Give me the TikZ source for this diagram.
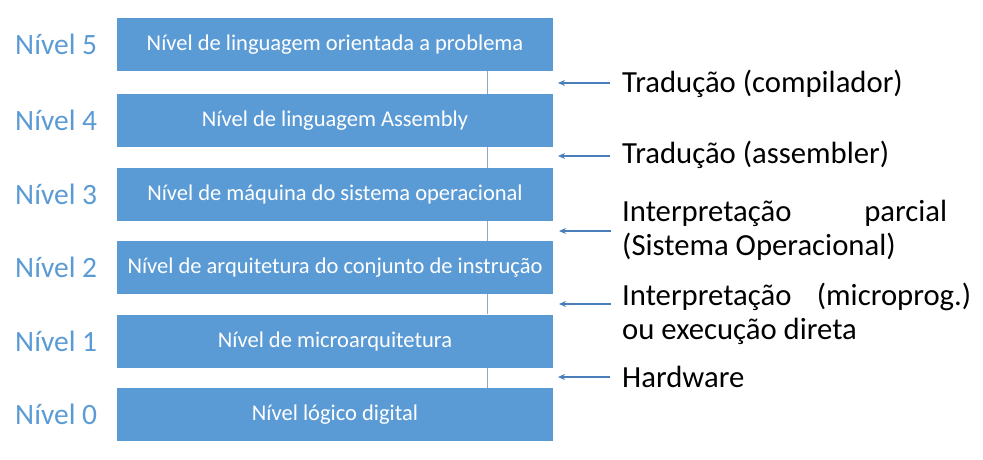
\documentclass[tikz,border=0pt]{standalone}
\usepackage{fontspec}
\setmainfont{Carlito}
\usetikzlibrary{arrows.meta}
\definecolor{boxblue}{HTML}{5B9BD5}
\definecolor{lblblue}{HTML}{5B9BD5}
\definecolor{arrblue}{HTML}{4A7EBB}
\definecolor{linegray}{HTML}{8FA8C4}
\begin{document}
\begin{tikzpicture}[x=1pt,y=1pt,
  level/.style={fill=boxblue, draw=none, minimum width=436pt, minimum height=53pt, inner sep=0pt,
    text=white, font=\fontsize{22.5}{25}\selectfont},
  lvl/.style={anchor=west, text=lblblue, inner sep=0pt, font=\fontsize{29.5}{32}\selectfont},
  desc/.style={anchor=west, inner sep=0pt, text=black, font=\fontsize{30.7}{34}\selectfont},
  arr/.style={draw=arrblue, line width=1.6pt, -{Stealth[length=7pt,width=6pt]}},
  vline/.style={draw=linegray, line width=1pt}]
\useasboundingbox (0,0) rectangle (983,-460);
\node[level] (b5) at (335,-44.5) {Nível de linguagem orientada a problema};
\node[level] (b4) at (335,-120.5) {Nível de linguagem Assembly};
\node[level] (b3) at (335,-194.5) {Nível de máquina do sistema operacional};
\node[level] (b2) at (335,-267.5) {Nível de arquitetura do conjunto de instrução};
\node[level] (b1) at (335,-341) {Nível de microarquitetura};
\node[level] (b0) at (335,-414.5) {Nível lógico digital};
\foreach \i in {0,...,5}{
  \node[lvl] (l\i) at (15,0 |- b\i.center) {Nível \i};
}
\draw[vline] ([xshift=-66pt]b5.south east) -- ([xshift=-66pt]b4.north east);
\draw[vline] ([xshift=-66pt]b4.south east) -- ([xshift=-66pt]b3.north east);
\draw[vline] ([xshift=-66pt]b3.south east) -- ([xshift=-66pt]b2.north east);
\draw[vline] ([xshift=-66pt]b2.south east) -- ([xshift=-66pt]b1.north east);
\draw[vline] ([xshift=-66pt]b1.south east) -- ([xshift=-66pt]b0.north east);
\node[desc] (t5) at (622,-84) {Tradução (compilador)};
\node[desc] (t4) at (622,-155) {Tradução (assembler)};
\node[desc, align=left] (t3) at (622,-230) {\hbox to 325pt{Interpretação\hfill parcial}\\(Sistema Operacional)};
\node[desc, align=left] (t2) at (622,-314) {\hbox to 349pt{Interpretação\hfill (microprog.)}\\ou execução direta};
\node[desc] (t1) at (622,-377) {Hardware};
\coordinate (a5) at (610,-83);
\coordinate (a4) at (610,-156);
\coordinate (a3) at (611,-231);
\coordinate (a2) at (611,-304);
\coordinate (a1) at (610,-377);
\foreach \i in {1,...,5}{
  \draw[arr] (a\i) -- ++(-52,0);
}
\end{tikzpicture}
\end{document}
